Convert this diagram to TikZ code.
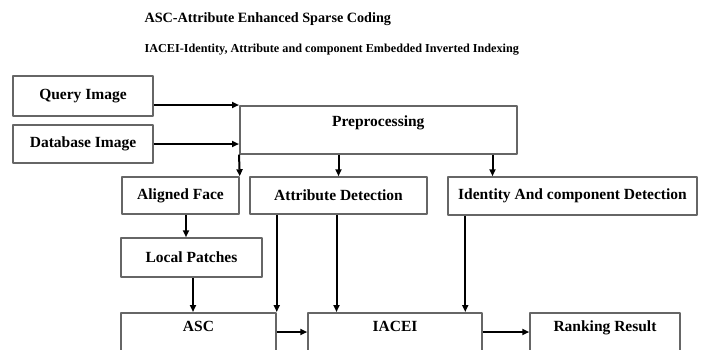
\documentclass[tikz,border=0pt]{standalone}
\usepackage{fontspec}
\setmainfont{Liberation Serif}
\usetikzlibrary{arrows.meta,positioning}
\newcommand\ttlsize[1]{\fontsize{#1}{#1}\selectfont}
\begin{document}
\begin{tikzpicture}[x=1pt, y=-1pt, font=\bfseries\fontsize{15.5}{17}\selectfont, line join=round,
	blk/.style={draw=black!60, line width=1.5pt, rectangle, inner sep=0pt},
	cut/.style={blk, anchor=north, minimum height=60pt, text height=10pt, text depth=32pt},
	flow/.style={-{Triangle[length=7pt,width=6pt]}, line width=2pt}]
	\useasboundingbox (0,0) rectangle (704,349);
	\clip (0,0) rectangle (704,349);
	% Chu thich
	\node[anchor=west] (ttlasc) at (141,19) {\ttlsize{14.2}ASC-Attribute Enhanced Sparse Coding};
	\node[anchor=west] (ttliacei) at (141,50) {\ttlsize{12.2}IACEI-Identity, Attribute and component Embedded Inverted Indexing};
	% Cac khoi
	\node[blk, minimum width=140pt, minimum height=40pt] (query) at (83,96) {Query Image};
	\node[blk, minimum width=140pt, minimum height=38pt] (db) at (83,144) {Database Image};
	\node[blk, anchor=north west, minimum width=277pt, minimum height=48pt, text height=11pt, text depth=18pt] (prep) at (239,105) {Preprocessing};
	\node[blk, minimum width=117pt, minimum height=37pt] (aligned) at (180.5,195.5) {Aligned Face};
	\node[blk, minimum width=177pt, minimum height=37pt] (attr) at (338.5,195.5) {Attribute Detection};
	\node[blk, minimum width=249pt, minimum height=38pt] (ident) at (572.5,196) {Identity And component Detection};
	\node[blk, minimum width=141pt, minimum height=39pt] (local) at (191.5,257.5) {Local Patches};
	\node[cut, minimum width=155pt] (asc) at (198.5,312) {ASC};
	\node[cut, minimum width=174pt] (iacei) at (395,312) {IACEI};
	\node[cut, minimum width=150pt] (rank) at (605,312) {Ranking Result};
	% Mui ten
	\draw[flow] (prep.north west -| query.east) -- (prep.north west);
	\draw[flow] (db.east) -- (db.east -| prep.west);
	\draw[flow] (prep.south west) -- (aligned.north east);
	\draw[flow] (attr.north |- prep.south) -- (attr.north);
	\draw[flow] ([xshift=-25pt]prep.south east) -- ([xshift=-25pt]prep.south east |- ident.north);
	\draw[flow] ([xshift=5.5pt]aligned.south) -- ([xshift=5.5pt]aligned.south |- local.north);
	\draw[flow] ([xshift=1.5pt]local.south) -- ([xshift=1.5pt]local.south |- asc.north);
	\draw[flow] (attr.south -| asc.north east) -- (asc.north east);
	\draw[flow] ([xshift=-2pt]attr.south) -- ([xshift=-2pt]attr.south |- iacei.north);
	\draw[flow] ([xshift=18pt]ident.south west) -- ([xshift=18pt]ident.south west |- iacei.north);
	\draw[flow] ([yshift=-20pt]asc.north east) -- ([yshift=-20pt]asc.north east -| iacei.west);
	\draw[flow] ([yshift=-20pt]iacei.north east) -- ([yshift=-20pt]iacei.north east -| rank.west);
\end{tikzpicture}
\end{document}
